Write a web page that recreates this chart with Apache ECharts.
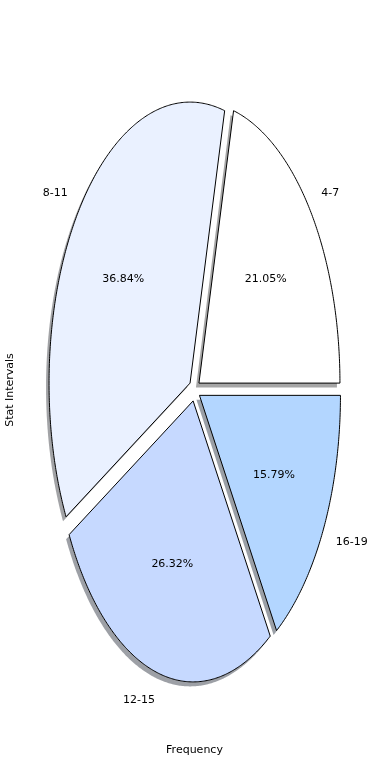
<!DOCTYPE html>
<html><head><meta charset="utf-8">
<script src="https://cdn.jsdelivr.net/npm/echarts@6/dist/echarts.min.js"></script>
<style>html,body{margin:0;padding:0;background:#fff}#c{width:390px;height:780px}</style>
</head><body><div id="c"></div>
<script>
const categories = ['4-7', '8-11', '12-15', '16-19'];
const frequencies = [4, 7, 5, 3];
const sliceColors = ['#ffffff', '#eaf1ff', '#c6d9ff', '#b3d6ff'];
const explodeAmount = [0.04, 0.04, 0.04, 0.04];
const xLabel = 'Frequency';
const yLabel = 'Stat Intervals';

const total = frequencies.reduce((a, b) => a + b, 0);
const starts = [];
let acc = 0;
frequencies.forEach(v => { starts.push(acc / total * 360); acc += v; });

function shadowColor(hex) {
  const r = parseInt(hex.slice(1, 3), 16), g = parseInt(hex.slice(3, 5), 16), b = parseInt(hex.slice(5, 7), 16);
  return 'rgba(' + Math.round(r * 0.3) + ',' + Math.round(g * 0.3) + ',' + Math.round(b * 0.3) + ',0.5)';
}

const chart = echarts.init(document.getElementById('c'), null, {renderer: 'canvas'});
chart.setOption({
  animation: false,
  grid: {left: 18.25, top: 38.75, width: 352.5, height: 702.5, outerBoundsMode: 'none', containLabel: false},
  xAxis: {type: 'value', min: -1.25, max: 1.25, name: xLabel, nameLocation: 'middle', nameGap: 3,
    nameTextStyle: {fontFamily: 'DejaVu Sans', fontSize: 11, color: '#000'},
    axisLine: {show: false}, axisTick: {show: false}, axisLabel: {show: false}, splitLine: {show: false}},
  yAxis: {type: 'value', min: -1.25, max: 1.25, name: yLabel, nameLocation: 'middle', nameGap: 3,
    nameTextStyle: {fontFamily: 'DejaVu Sans', fontSize: 11, color: '#000'},
    axisLine: {show: false}, axisTick: {show: false}, axisLabel: {show: false}, splitLine: {show: false}},
  series: [{
    type: 'custom',
    coordinateSystem: 'cartesian2d',
    data: frequencies.map((v, i) => [v, i]),
    renderItem: function (params, api) {
      const i = api.value(1);
      const v = api.value(0);
      const a0 = starts[i], a1 = a0 + v / total * 360;
      const mid = (a0 + a1) / 2 * Math.PI / 180;
      const e = explodeAmount[i];
      const ox = e * Math.cos(mid), oy = e * Math.sin(mid);
      const pts = [api.coord([ox, oy])];
      const n = Math.max(2, Math.ceil((a1 - a0) * 2));
      for (let k = 0; k <= n; k++) {
        const a = (a0 + (a1 - a0) * k / n) * Math.PI / 180;
        pts.push(api.coord([ox + Math.cos(a), oy + Math.sin(a)]));
      }
      const shadowPts = pts.map(p => [p[0] - 3, p[1] + 4.5]);
      const lp = api.coord([ox + 1.1 * Math.cos(mid), oy + 1.1 * Math.sin(mid)]);
      const pp = api.coord([ox + 0.6 * Math.cos(mid), oy + 0.6 * Math.sin(mid)]);
      const pct = (v / total * 100).toFixed(2) + '%';
      return {
        type: 'group',
        children: [
          {type: 'polygon', z2: 1, shape: {points: shadowPts}, style: {fill: shadowColor(sliceColors[i]), stroke: null}},
          {type: 'polygon', z2: 10, shape: {points: pts}, style: {fill: sliceColors[i], stroke: '#000', lineWidth: 1, lineJoin: 'miter'}},
          {type: 'text', z2: 20, x: lp[0], y: lp[1], style: {text: categories[i], fill: '#000', fontFamily: 'DejaVu Sans', fontSize: 11,
            align: Math.cos(mid) >= 0 ? 'left' : 'right', verticalAlign: 'middle'}},
          {type: 'text', z2: 20, x: pp[0], y: pp[1], style: {text: pct, fill: '#000', fontFamily: 'DejaVu Sans', fontSize: 11,
            align: 'center', verticalAlign: 'middle'}}
        ]
      };
    }
  }]
});
</script></body></html>
